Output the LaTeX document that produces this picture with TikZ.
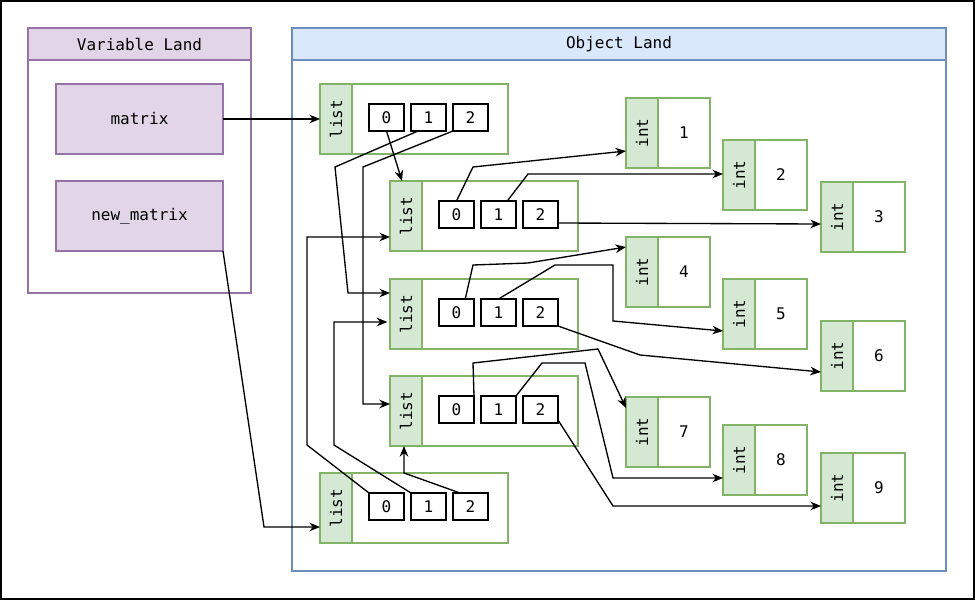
\documentclass[tikz,border=0pt]{standalone}
\usepackage{fontspec}
\setmonofont{DejaVu Sans Mono}
\usetikzlibrary{arrows.meta,calc}
\definecolor{purfill}{HTML}{E1D5E7}
\definecolor{purline}{HTML}{9673A6}
\definecolor{bluefill}{HTML}{DAE8FC}
\definecolor{blueline}{HTML}{6C8EBF}
\definecolor{grnfill}{HTML}{D5E8D4}
\definecolor{grnline}{HTML}{82B366}
\tikzset{
  sz/.style 2 args={minimum width=#1*0.75pt, minimum height=#2*0.75pt, anchor=north west, inner sep=0pt, outer sep=0pt},
  varbody/.style={draw=purline, fill=white, line width=1pt},
  varfill/.style={draw=purline, fill=purfill, line width=1pt},
  objbody/.style={draw=blueline, fill=white, line width=1pt},
  objfill/.style={draw=blueline, fill=bluefill, line width=1pt},
  grn/.style={draw=grnline, fill=white, line width=1pt},
  grnlab/.style={draw=grnline, fill=grnfill, line width=1pt},
  idx/.style={draw=black, fill=white, line width=1pt, sz={35}{27}},
  arr/.style={draw=black, line width=1pt, -{Stealth[length=8pt,width=6.5pt]}},
}
\newcommand\listobj[3]{%
  \node[grn, sz={188}{70}] (#1) at (#2,#3) {};
  \node[grnlab, sz={32}{70}] (#1l) at (#2,#3) {\rotatebox{90}{list}};
  \node[idx] (#10) at (#2+49,#3+20) {0};
  \node[idx] (#11) at (#2+91,#3+20) {1};
  \node[idx] (#12) at (#2+133,#3+20) {2};
}
\newcommand\intobj[4]{%
  \node[grn, sz={84}{70}] (#1) at (#2,#3) {};
  \node[grnlab, sz={32}{70}] (#1l) at (#2,#3) {\rotatebox{90}{int}};
  \node (#1v) at (#2+58,#3+35) {#4};
}
\begin{document}
\begin{tikzpicture}[x=0.75pt,y=-0.75pt, font=\ttfamily\fontsize{12}{14}\selectfont]
\useasboundingbox (0,0) rectangle (975,600);
\draw[line width=1.2pt] (1,1) rectangle (974,599);

% Variable Land
\node[varbody, sz={223}{265}] (vland) at (28,28) {};
\node[varfill, sz={223}{32}] (vhead) at (28,28) {Variable Land};
\node[varfill, sz={167}{70}] (matrix) at (56,84) {matrix};
\node[varfill, sz={167}{70}] (nm) at (56,181) {new\_matrix};

% Object Land
\node[objbody, sz={654}{543}] (oland) at (292,28) {};
\node[objfill, sz={654}{32}] (ohead) at (292,28) {Object Land};

\listobj{lA}{320}{84}
\listobj{lB}{390}{181}
\listobj{lC}{390}{279}
\listobj{lD}{390}{376}
\listobj{lE}{320}{473}

\intobj{iA}{626}{98}{1}
\intobj{iB}{723}{140}{2}
\intobj{iC}{821}{182}{3}
\intobj{iD}{626}{237}{4}
\intobj{iE}{723}{279}{5}
\intobj{iF}{821}{321}{6}
\intobj{iG}{626}{397}{7}
\intobj{iH}{723}{425}{8}
\intobj{iI}{821}{453}{9}

% bend coordinates
\coordinate (p2) at (264,527);
\coordinate (p4a) at (335,167);
\coordinate (p4b) at (348,293);
\coordinate (p5a) at (363,167);
\coordinate (p5b) at (363,404);
\coordinate (p6a) at (307,445);
\coordinate (p6b) at (307,237);
\coordinate (p7a) at (334,445);
\coordinate (p7b) at (334,322);
\coordinate (p8a) at (404,473);
\coordinate (p9) at (473,167);
\coordinate (p10) at (528,174);
\coordinate (p12a) at (473,265);
\coordinate (p12b) at (528,263);
\coordinate (p13a) at (555,265);
\coordinate (p13b) at (613,265);
\coordinate (p13c) at (613,321);
\coordinate (p14) at (640,355);
\coordinate (p15a) at (473,363);
\coordinate (p15b) at (598,349);
\coordinate (p16a) at (542,363);
\coordinate (p16b) at (585,363);
\coordinate (p16c) at (613,478);
\coordinate (p17) at (613,506);

% connectors
\draw[arr] (matrix.east) -- (lA.west);
\draw[arr] (nm.south east) -- (p2) -- (p2 -| lE.west);
\draw[arr] (lA0.south) -- ([xshift=-3pt]lBl.north);
\draw[arr] ([xshift=5.25pt]lA1.south west) -- (p4a) -- (p4b) -- (p4b -| lC.west);
\draw[arr] (lA2.south west) -- (p5a) -- (p5b) -- (p5b -| lD.west);
\draw[arr] (lE0.north west) -- (p6a) -- (p6b) -- (p6b -| lB.west);
\draw[arr] (lE1.north west) -- (p7a) -- (p7b) -- ([xshift=-2pt]p7b -| lC.west);
\draw[arr] ([xshift=5.25pt]lE2.north west) -- (p8a) -- ([xshift=-1.5pt]lDl.south);

\draw[arr] (lB0.north) -- (p9) -- (iA.west |- 0,151);
\draw[arr] ($(lB1.north)!0.5!(lB1.north east)$) -- (p10) -- (p10 -| iB.west);
\draw[arr] (lB2.east |- 0,223) -- (iC.west |- 0,224);

\draw[arr] ($(lC0.north)!0.5!(lC0.north east)$) -- (p12a) -- (p12b) -- (iD.west |- 0,247);
\draw[arr] (lC1.north) -- (p13a) -- (p13b) -- (p13c) -- (iE.west |- 0,331);
\draw[arr] (lC2.south east) -- (p14) -- (iF.west |- 0,372);

\draw[arr] (lD0.north east) -- (p15a) -- (p15b) -- (iG.west |- 0,408);
\draw[arr] (lD1.north east) -- (p16a) -- (p16b) -- (p16c) -- (p16c -| iH.west);
\draw[arr] (lD2.east |- 0,420) -- (p17) -- (p17 -| iI.west);
\end{tikzpicture}
\end{document}
